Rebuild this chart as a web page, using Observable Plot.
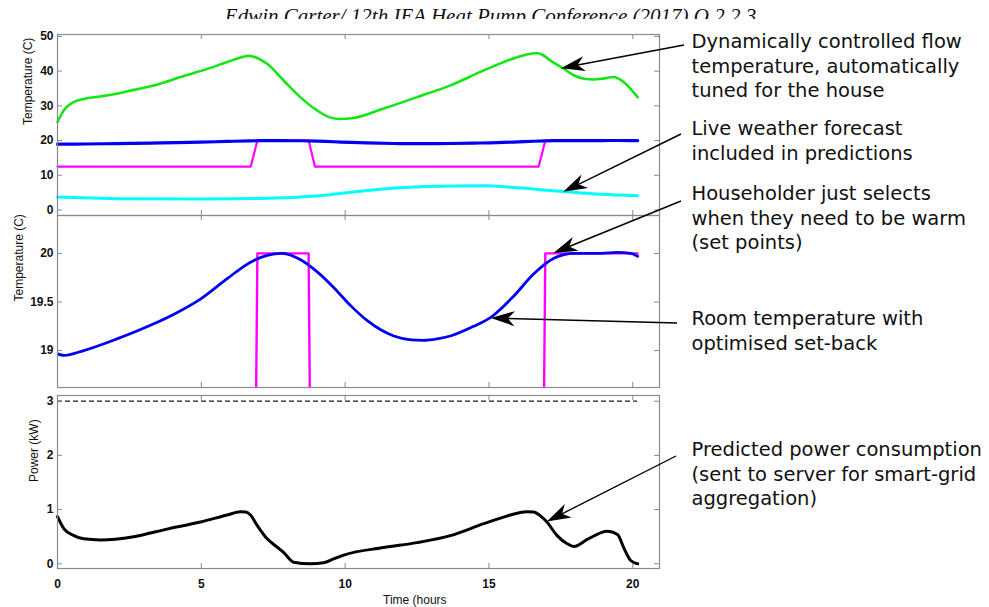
<!DOCTYPE html>
<html>
<head>
<meta charset="utf-8">
<script src="https://cdn.jsdelivr.net/npm/d3@7"></script>
<script src="https://cdn.jsdelivr.net/npm/@observablehq/plot@0.6"></script>
<style>
  html, body { margin: 0; padding: 0; background: #fff; }
  #wrap { position: relative; width: 989px; height: 607px; overflow: hidden; background: #fff; }
  #wrap svg { position: absolute; left: 0; top: 0; max-width: none; }
  #header { position: absolute; left: 0; top: 0; width: 989px; height: 19px; overflow: hidden; }
  #header span { position: absolute; left: 0; width: 981px; top: 6px; text-align: center; white-space: nowrap;
    font-family: "Liberation Serif", "Times New Roman", serif; font-style: italic; font-size: 21px; line-height: 21px; color: #111; }
  g[aria-label="y-axis tick label"] text, g[aria-label="x-axis tick label"] text { font-weight: bold; }
</style>
</head>
<body>
<div id="wrap"><div id="header"><span>Edwin Carter/ 12th IEA Heat Pump Conference (2017) O.2.2.3</span></div></div>
<script>
// ---------------- data ----------------
const xTicks = [0, 5, 10, 15, 20];
const topTicks = [0, 10, 20, 30, 40, 50];
const midTicks = [19, 19.5, 20];
const powerTicks = [0, 1, 2, 3];

const flowHours = [0, 0.1, 0.22, 0.5, 0.91, 1.49, 2.0, 2.65, 3.46, 4.39, 4.97, 5.9, 6.4, 6.65, 6.85, 7.29, 7.86, 8.44, 9.02, 9.49, 9.8, 10.3, 11.34, 12.5, 13.66, 14.82, 15.98, 16.45, 16.67, 16.9, 17.13, 17.6, 17.95, 18.3, 18.65, 19.0, 19.34, 19.69, 20.17];
const flowTemp  = [25.3, 27.0, 28.7, 30.8, 32.0, 32.7, 33.4, 34.6, 36.1, 38.6, 40.0, 42.6, 44.0, 44.4, 44.1, 42.1, 37.3, 32.5, 28.7, 26.6, 26.2, 26.5, 29.2, 32.5, 35.9, 40.2, 44.0, 45.0, 45.2, 44.5, 43.1, 40.7, 38.8, 37.8, 37.6, 37.9, 38.3, 36.8, 32.5];

const roomHours = [0, 0.22, 0.91, 2.07, 3.23, 4.15, 4.97, 5.9, 6.71, 7.29, 7.81, 8.45, 9.03, 9.6, 10.2, 10.76, 11.69, 12.3, 12.73, 13.2, 13.66, 14.47, 15.05, 15.86, 16.56, 17.26, 17.96, 18.89, 19.47, 19.93, 20.17];
const roomTemp  = [18.966, 18.95, 19.0, 19.12, 19.26, 19.39, 19.53, 19.74, 19.91, 19.98, 20.0, 19.935, 19.81, 19.65, 19.46, 19.31, 19.15, 19.11, 19.105, 19.12, 19.15, 19.25, 19.34, 19.56, 19.79, 19.95, 20.0, 20.0, 20.01, 20.0, 19.97];

const setHours = [0, 6.72, 6.95, 8.73, 8.95, 16.73, 16.96, 20.17];
const setTemp  = [12.5, 12.5, 20, 20, 12.5, 12.5, 20, 20];

const outHours = [0, 1.5, 2.65, 5.0, 7.3, 8.44, 9.49, 10.2, 11.9, 13.66, 14.82, 15.98, 17.6, 18.9, 20.17];
const outTemp  = [3.7, 3.4, 3.2, 3.15, 3.35, 3.7, 4.4, 5.1, 6.4, 6.9, 7.0, 6.4, 5.3, 4.5, 4.1];

const powerHours = [0, 0.22, 0.57, 0.91, 1.49, 2.65, 3.81, 4.97, 5.9, 6.36, 6.55, 6.71, 6.94, 7.29, 7.63, 7.86, 8.21, 8.79, 9.25, 9.6, 9.95, 11.34, 12.5, 13.66, 14.82, 15.62, 16.31, 16.55, 16.8, 17.0, 17.37, 17.72, 17.96, 18.42, 19.12, 19.47, 19.7, 19.93, 20.17];
const powerKW    = [0.87, 0.65, 0.52, 0.46, 0.44, 0.5, 0.64, 0.77, 0.9, 0.96, 0.955, 0.9, 0.71, 0.46, 0.31, 0.21, 0.03, 0.0, 0.02, 0.09, 0.16, 0.3, 0.39, 0.52, 0.74, 0.88, 0.96, 0.955, 0.88, 0.78, 0.52, 0.37, 0.32, 0.45, 0.6, 0.54, 0.28, 0.06, 0.0];
const maxPower = 3;

const panelLabels = ["Temperature (C)", "Temperature (C)", "Power (kW)"];
const xAxisLabel = "Time (hours";
const annotationLines = [
  ["Dynamically controlled flow", "temperature, automatically", "tuned for the house"],
  ["Live weather forecast", "included in predictions"],
  ["Householder just selects", "when they need to be warm", "(set points)"],
  ["Room temperature with", "optimised set-back"],
  ["Predicted power consumption", "(sent to server for smart-grid", "aggregation)"]
];
const annotationPanel  = [0, 0, 1, 1, 2];
const annotationHours  = [17.52, 17.6, 17.26, 15.08, 17.03];
const annotationValues = [40.7, 5.1, 20.0, 19.33, 0.77];

// ---------------- layout ----------------
const W = 989, H = 607, ML = 57, MR = 330;
const zip = (xs, ys) => xs.map((x, i) => ({x, y: ys[i]}));
const frameGray = "#8a8a8a";
const GREEN = "#14e614", BLUE = "#0000f0", MAGENTA = "#ff00ff", CYAN = "#00ffff";
const fmt = d => String(d);

function panel({marginTop, marginBottom, yDomain, yTicks, label, labelDx, marks, showX}) {
  const innerH = H - marginTop - marginBottom;
  const innerW = W - ML - MR;
  const L = 5;
  const all = [
    ...marks,
    Plot.frame({stroke: frameGray, strokeWidth: 1.2}),
    Plot.ruleX(xTicks, {x: d => d, insetTop: innerH - L, stroke: frameGray}),
    Plot.ruleX(xTicks, {x: d => d, insetBottom: innerH - L, stroke: frameGray}),
    Plot.ruleY(yTicks, {y: d => d, insetRight: innerW - L, stroke: frameGray}),
    Plot.ruleY(yTicks, {y: d => d, insetLeft: innerW - L, stroke: frameGray}),
    Plot.axisY(yTicks, {tickSize: 0, tickPadding: 4, label: null, tickFormat: fmt, fontSize: 12, fill: "#111"}),
    Plot.text([label], {frameAnchor: "left", dx: labelDx, rotate: -90, text: d => d, fontSize: 12, fill: "#111"})
  ];
  if (showX) all.push(Plot.axisX(xTicks, {tickSize: 0, tickPadding: 11, label: null, tickFormat: fmt, fontSize: 12, fill: "#111"}));
  return Plot.plot({
    width: W, height: H,
    marginLeft: ML, marginRight: MR, marginTop, marginBottom,
    x: showX ? {domain: [0, 20.93]} : {domain: [0, 20.93], axis: null},
    y: {domain: yDomain},
    style: {background: "transparent", fontFamily: "'Liberation Sans', Arial, Helvetica, sans-serif", fontSize: "12px", overflow: "visible"},
    marks: all
  });
}

const p1 = panel({
  marginTop: 34, marginBottom: H - 215, yDomain: [-1.6, 50.55], yTicks: topTicks,
  label: panelLabels[0], labelDx: -29.5,
  marks: [
    Plot.line(zip(flowHours, flowTemp), {x: "x", y: "y", stroke: GREEN, strokeWidth: 2.6, curve: "monotone-x"}),
    Plot.line(zip(setHours, setTemp), {x: "x", y: "y", stroke: MAGENTA, strokeWidth: 2.2}),
    Plot.line(zip(roomHours, roomTemp), {x: "x", y: "y", stroke: BLUE, strokeWidth: 3.2, curve: "monotone-x"}),
    Plot.line(zip(outHours, outTemp), {x: "x", y: "y", stroke: CYAN, strokeWidth: 3, curve: "monotone-x"})
  ]
});

const p2 = panel({
  marginTop: 215, marginBottom: H - 387, yDomain: [18.62, 20.39], yTicks: midTicks,
  label: panelLabels[1], labelDx: -38.7,
  marks: [
    Plot.line(zip(setHours, setTemp), {x: "x", y: "y", stroke: MAGENTA, strokeWidth: 2.4, clip: true}),
    Plot.line(zip(roomHours, roomTemp), {x: "x", y: "y", stroke: BLUE, strokeWidth: 2.8, curve: "monotone-x", clip: true})
  ]
});

const p3 = panel({
  marginTop: 395, marginBottom: H - 568, yDomain: [-0.087, 3.105], yTicks: powerTicks,
  label: panelLabels[2], labelDx: -23.5, showX: true,
  marks: [
    Plot.ruleY([maxPower], {x1: powerHours[0], x2: powerHours[powerHours.length - 1], stroke: "#222", strokeWidth: 1.2, strokeDasharray: "5,3"}),
    Plot.line(zip(powerHours, powerKW), {x: "x", y: "y", stroke: "#000", strokeWidth: 3, curve: "monotone-x"})
  ]
});

const wrap = document.getElementById("wrap");
[p1, p2, p3].forEach(p => wrap.appendChild(p));

// ---------------- annotations overlay ----------------
const panels = [p1, p2, p3];
const textX = 691.5;
const firstBaseline = [48.3, 135, 200, 325, 456];
const lineGap = 24.5;
const arrowStart = [[684, 45], [681, 134], [681, 201], [677, 323], [676, 456]];

const svg = d3.create("svg").attr("width", W).attr("height", H).attr("viewBox", `0 0 ${W} ${H}`);
svg.append("text").attr("x", 383).attr("y", 604)
  .attr("font-family", "'Liberation Sans', Arial, sans-serif").attr("font-size", 12).attr("fill", "#111")
  .text(xAxisLabel);

annotationLines.forEach((lines, i) => {
  const p = panels[annotationPanel[i]];
  const tx = p.scale("x").apply(annotationHours[i]);
  const ty = p.scale("y").apply(annotationValues[i]);
  const [sx, sy] = arrowStart[i];
  const ang = Math.atan2(ty - sy, tx - sx);
  const Lh = 24, Wh = 7.5, N = 17;
  const cos = Math.cos(ang), sin = Math.sin(ang);
  const pt = (a, b) => [tx + a * cos - b * sin, ty + a * sin + b * cos];
  const notch = pt(-N, 0);
  svg.append("line").attr("x1", sx).attr("y1", sy).attr("x2", notch[0]).attr("y2", notch[1])
    .attr("stroke", "#000").attr("stroke-width", 1.4);
  const head = [pt(0, 0), pt(-Lh, -Wh), pt(-N, 0), pt(-Lh, Wh)];
  svg.append("path").attr("d", "M" + head.map(d => d.join(",")).join("L") + "Z").attr("fill", "#000");
  const t = svg.append("text").attr("font-family", "'DejaVu Sans', sans-serif").attr("font-size", 19.5).attr("fill", "#111");
  lines.forEach((s, j) => {
    t.append("tspan").attr("x", textX).attr("y", firstBaseline[i] + j * lineGap).text(s);
  });
});
wrap.appendChild(svg.node());
</script>
</body>
</html>
